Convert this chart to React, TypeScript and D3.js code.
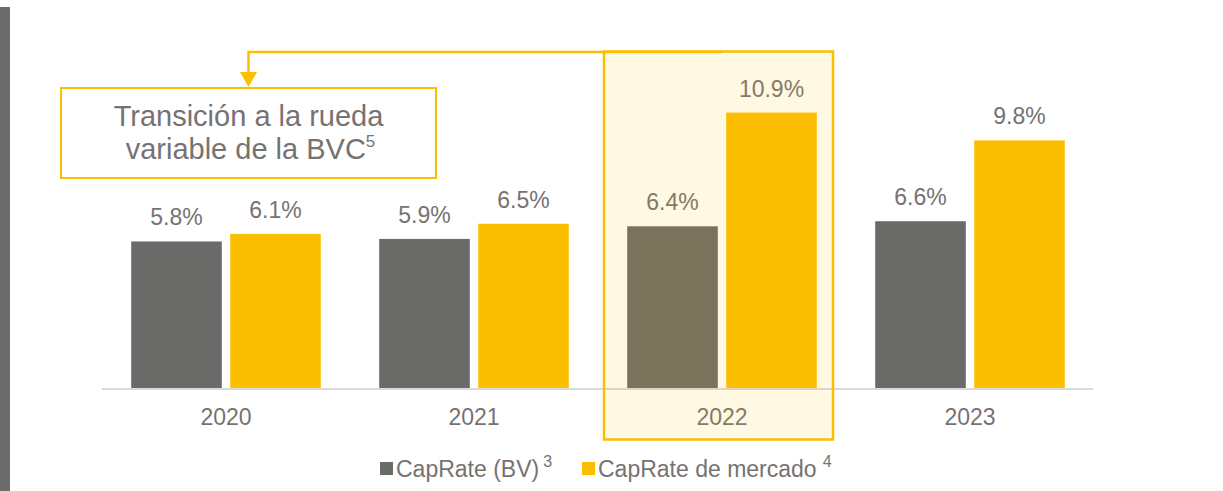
import * as d3 from "d3"

const years = ["2020", "2021", "2022", "2023"]
const capRateBV = [5.8, 5.9, 6.4, 6.6]
const capRateMercado = [6.1, 6.5, 10.9, 9.8]
const seriesNames = ["CapRate (BV)", "CapRate de mercado"]
const seriesSup = ["3", "4"]
const highlightYear = "2022"
const noteLines = ["Transición a la rueda", "variable de la BVC"]

const W = 1223
const H = 491
const GRAY = "#6a6a68"
const YELLOW = "#fcbe00"
const TEXT = "#767272"
const FONT = "'Liberation Sans', Arial, sans-serif"

export default function App() {
  const x0 = d3.scaleBand().domain(years).range([102, 1094]).padding(0)
  const x1 = d3
    .scaleBand()
    .domain(seriesNames)
    .range([0, x0.bandwidth()])
    .paddingInner(0.085)
    .paddingOuter(0.295)
  const y = d3.scaleLinear().domain([0, 12]).range([388, 84.8])

  const rows = years.map((yr, i) => ({
    year: yr,
    vals: [capRateBV[i], capRateMercado[i]],
  }))

  const hx = x0(highlightYear)!
  const hLeft = hx + 6
  const hRight = hx + x0.bandwidth() - 13
  const hCenter = hx + x0.bandwidth() / 2

  // annotation box
  const boxL = 61
  const boxR = 436
  const boxT = 88
  const boxB = 178
  const boxC = (boxL + boxR) / 2
  const lineY = 52

  return (
    <svg
      width={W}
      height={H}
      style={{ position: "absolute", left: 0, top: 0, background: "#fff" }}
      fontFamily={FONT}
    >
      <rect x={0} y={7} width={10} height={H - 7} fill="#6b6b6b" />

      {/* bars */}
      {rows.map((r) =>
        r.vals.map((v, j) => {
          const bx = x0(r.year)! + x1(seriesNames[j])!
          return (
            <g key={r.year + j}>
              <rect
                x={bx}
                y={y(v)}
                width={x1.bandwidth()}
                height={y(0) - y(v)}
                fill={j === 0 ? GRAY : YELLOW}
              />
              <text
                x={bx + x1.bandwidth() / 2}
                y={y(v) - 16}
                textAnchor="middle"
                fontSize={23}
                fill={TEXT}
              >
                {v.toFixed(1)}%
              </text>
            </g>
          )
        })
      )}

      {/* baseline */}
      <line x1={102} x2={1093} y1={389} y2={389} stroke="#d9d9d9" strokeWidth={2} />

      {/* year labels */}
      {years.map((yr) => (
        <text
          key={yr}
          x={x0(yr)! + x0.bandwidth() / 2}
          y={425}
          textAnchor="middle"
          fontSize={23}
          fill={TEXT}
        >
          {yr}
        </text>
      ))}

      {/* highlight overlay */}
      <rect
        x={hLeft}
        y={51.5}
        width={hRight - hLeft}
        height={439.5 - 51.5}
        fill={YELLOW}
        fillOpacity={0.11}
        stroke={YELLOW}
        strokeWidth={2.5}
      />

      {/* connector arrow */}
      <path
        d={`M${hCenter},${lineY} H${boxC} V${72}`}
        fill="none"
        stroke={YELLOW}
        strokeWidth={2.5}
      />
      <path d={`M${boxC - 8.5},72 L${boxC + 8.5},72 L${boxC},87 Z`} fill={YELLOW} />

      {/* annotation box */}
      <rect
        x={boxL}
        y={boxT}
        width={boxR - boxL}
        height={boxB - boxT}
        fill="#fff"
        stroke={YELLOW}
        strokeWidth={2}
      />
      <text x={boxC} y={126} textAnchor="middle" fontSize={29} fill={TEXT}>
        {noteLines[0]}
      </text>
      <text x={boxC + 2} y={159} textAnchor="middle" fontSize={29} fill={TEXT}>
        {noteLines[1]}
        <tspan fontSize={17} dy={-12}>
          5
        </tspan>
      </text>

      {/* legend */}
      <g>
        <rect x={380} y={462} width={13} height={13} fill={GRAY} />
        <text x={396} y={477} fontSize={23} fill={TEXT}>
          {seriesNames[0]}
          <tspan fontSize={16} dx={4} dy={-10}>
            {seriesSup[0]}
          </tspan>
        </text>
        <rect x={582} y={462} width={13} height={13} fill={YELLOW} />
        <text x={598} y={477} fontSize={23} fill={TEXT}>
          {seriesNames[1]}
          <tspan fontSize={16} dx={6} dy={-10}>
            {seriesSup[1]}
          </tspan>
        </text>
      </g>
    </svg>
  )
}
